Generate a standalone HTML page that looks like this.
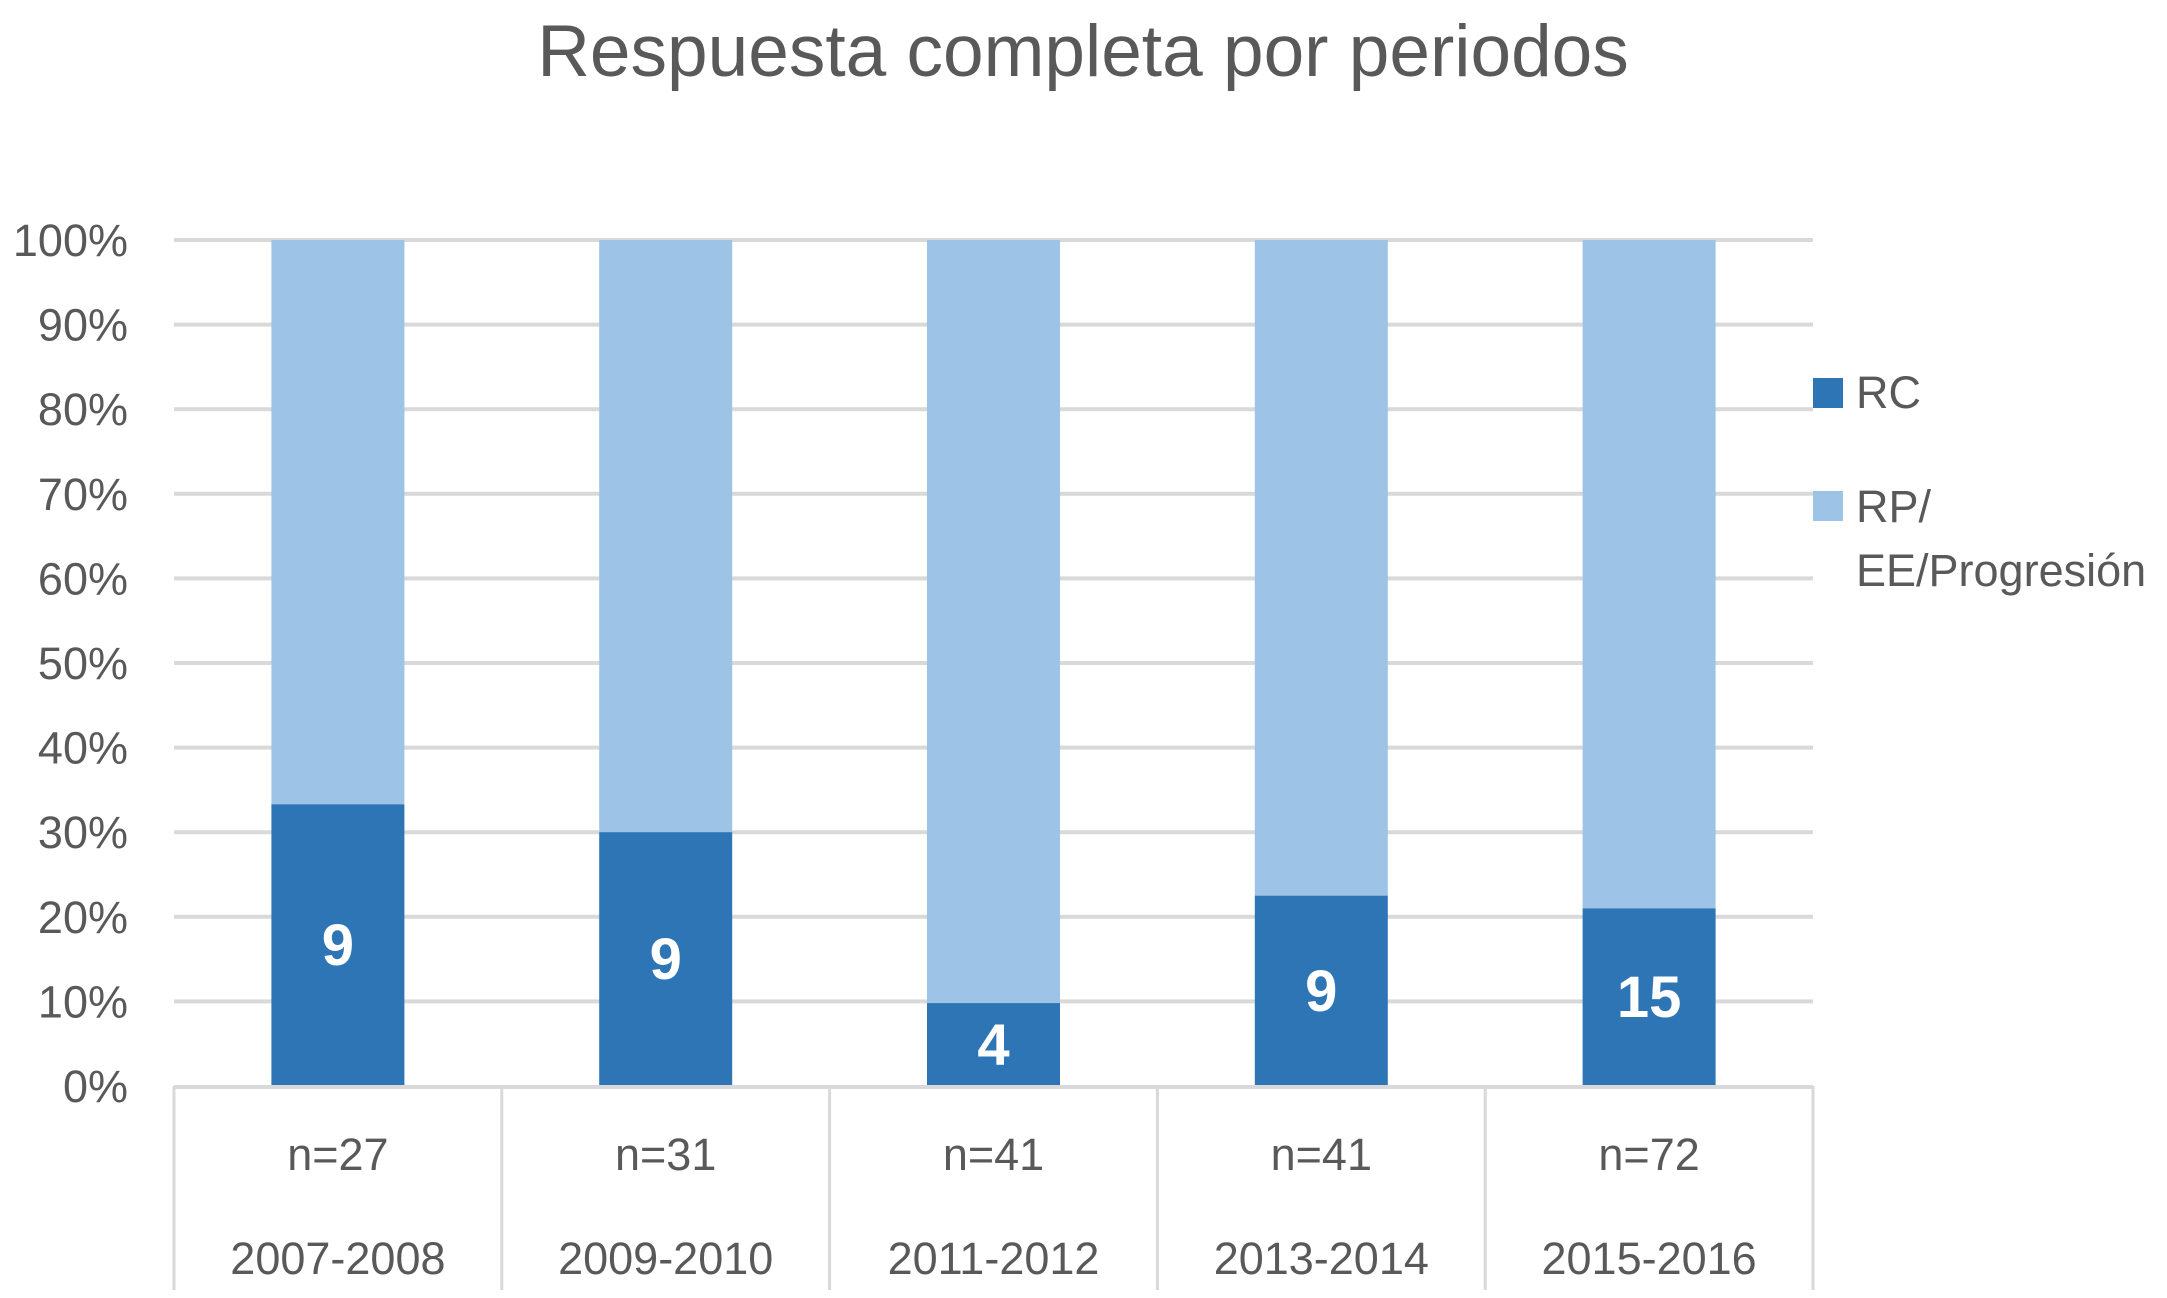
<!DOCTYPE html>
<html><head><meta charset="utf-8"><style>
body{margin:0;background:#fff;}
svg{display:block;font-family:"Liberation Sans",sans-serif;}
</style></head><body>
<svg id="chart" width="2167" height="1298" viewBox="0 0 2167 1298" xmlns="http://www.w3.org/2000/svg">
<text x="1083" y="76" text-anchor="middle" font-size="73" fill="#595959">Respuesta completa por periodos</text>
<g id="grid"></g><g id="bars"></g><g id="axis"></g>
<g>
<rect x="1813" y="378" width="30" height="30" fill="#2E75B6"/>
<text x="1856" y="408" font-size="45" fill="#595959">RC</text>
<rect x="1813" y="491" width="30" height="30" fill="#9DC3E6"/>
<text x="1856" y="522" font-size="45" fill="#595959">RP/</text>
<text x="1856" y="586" font-size="45" fill="#595959">EE/Progresión</text>
</g>
</svg>
<script>
const periods=["2007-2008","2009-2010","2011-2012","2013-2014","2015-2016"];
const nLabels=["n=27","n=31","n=41","n=41","n=72"];
const rcCounts=[9,9,4,9,15];
const rcPct=[33.3,30.0,9.8,22.5,21.0];
const yTicks=[0,10,20,30,40,50,60,70,80,90,100];
const NS="http://www.w3.org/2000/svg";
const L=174,R=1813,Y0=1086,Y100=240,BW=133,BOT=1290;
const cw=(R-L)/periods.length;
const y=v=>Y0-(v/100)*(Y0-Y100);
const xc=i=>L+cw*(i+0.5);
function mk(t,a,p){const e=document.createElementNS(NS,t);for(const k in a)e.setAttribute(k,a[k]);p.appendChild(e);return e;}
const grid=document.getElementById('grid'),bars=document.getElementById('bars'),axis=document.getElementById('axis');
yTicks.forEach(v=>{
 if(v>0){const g=mk('line',{x1:L,x2:R,y1:y(v),y2:y(v),stroke:'#d9d9d9','stroke-width':4},grid);
 
 }
 const t=mk('text',{x:128,y:y(v)+16,'text-anchor':'end','font-size':45,fill:'#595959'},axis);
 t.textContent=v+'%';
 
 
});
periods.forEach((p,i)=>{
 const x=xc(i)-BW/2;
 const b1=mk('rect',{x:x,y:y(100),width:BW,height:y(rcPct[i])-y(100),fill:'#9DC3E6'},bars);
 
 
 const b2=mk('rect',{x:x,y:y(rcPct[i]),width:BW,height:Y0-y(rcPct[i]),fill:'#2E75B6'},bars);
 
 
 const lb=mk('text',{x:xc(i),y:(y(rcPct[i])+Y0)/2+20,'text-anchor':'middle','font-size':58,'font-weight':'bold',fill:'#fff'},bars);
 lb.textContent=rcCounts[i];
 
 
 const n=mk('text',{x:xc(i),y:1170,'text-anchor':'middle','font-size':45,fill:'#595959'},axis);
 n.textContent=nLabels[i];
 
 
 const yr=mk('text',{x:xc(i),y:1274,'text-anchor':'middle','font-size':45,fill:'#595959'},axis);
 yr.textContent=p;
 
 
});
for(let i=0;i<=periods.length;i++){
 const v=mk('line',{x1:L+cw*i,x2:L+cw*i,y1:Y0,y2:BOT,stroke:'#d9d9d9','stroke-width':3},axis);
 
 
}
const ax=mk('line',{x1:L,x2:R,y1:Y0+1,y2:Y0+1,stroke:'#d9d9d9','stroke-width':4},axis);


</script>
</body></html>
